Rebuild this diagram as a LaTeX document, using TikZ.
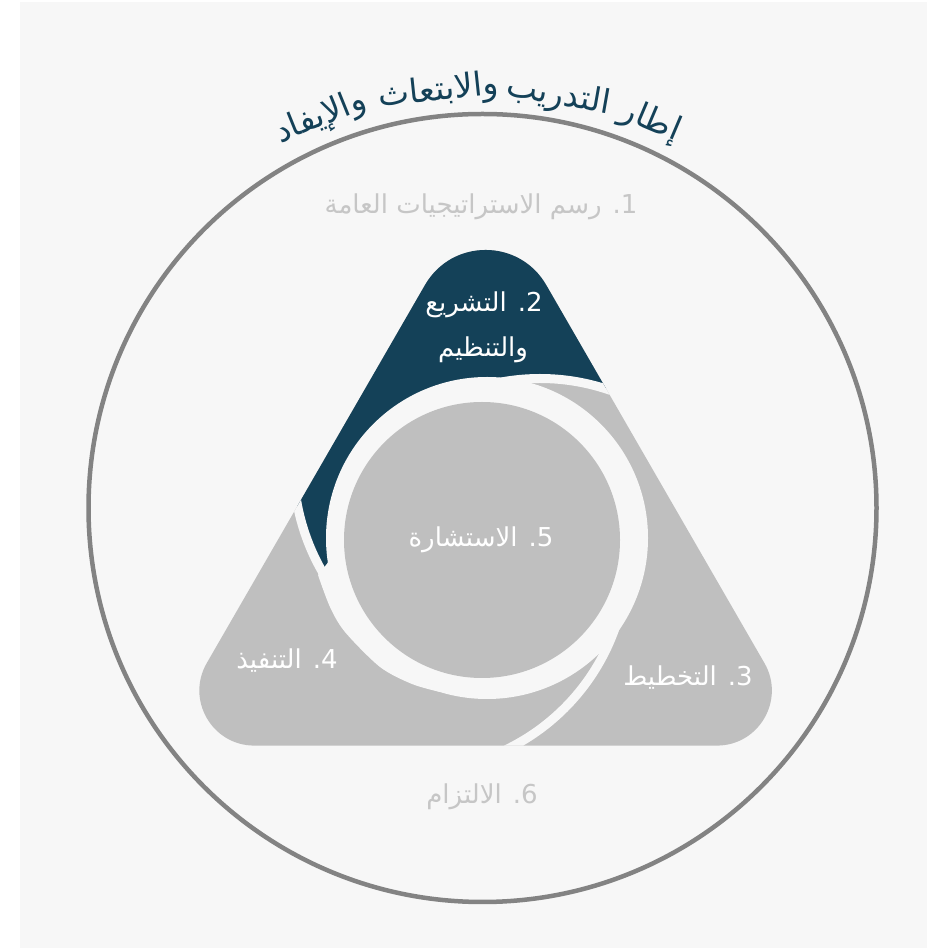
\documentclass[tikz,border=0pt]{standalone}
\usepackage{fontspec}
\newfontfamily\arabicfont[Script=Arabic]{DejaVu Sans}
\TeXXeTstate=1
\definecolor{bgc}{HTML}{F7F7F7}
\definecolor{darkb}{HTML}{144158}
\definecolor{piece}{HTML}{BFBFBF}
\definecolor{ringc}{HTML}{838383}
\definecolor{lighttxt}{HTML}{C6C6C6}
\begin{document}
\begin{tikzpicture}[x=1pt,y=1pt,
  lbl/.style={font=\arabicfont\fontsize{26}{30}\selectfont, inner sep=0pt},
  ttl/.style={font=\arabicfont\fontsize{33}{36}\selectfont, text=darkb, inner sep=0pt, anchor=base},
  gapline/.style={bgc, line width=9}]
\useasboundingbox (0,0) rectangle (927,948);
\fill[white] (0,0) rectangle (927,948);
\fill[bgc] (20,0) rectangle (927,946);
% outer circle
\draw[ringc, line width=4.5] (482.5,440) circle[radius=394];
% title on arc
\begin{scope}[shift={(482.5,440)}]
\node[ttl, rotate=-23] (t1) at (66.5:413) {\beginR إطار\endR};
\node[ttl, rotate=-10] (t2) at (79.5:410) {\beginR التدريب\endR};
\node[ttl, rotate=6] (t3) at (96:410) {\beginR والابتعاث\endR};
\node[ttl, rotate=22] (t4) at (112.5:414) {\beginR والإيفاد\endR};
\end{scope}
% triangle with pieces
\begin{scope}
\clip (425,663) .. controls (452,709.7) and (519.2,709.7) .. (546.2,663)
  -- (764.45,284.9) .. controls (785.6,248.3) and (759.1,202.4) .. (716.8,202.4)
  -- (254.4,202.4) .. controls (212.1,202.4) and (185.6,248.3) .. (206.75,284.9) -- cycle;
\fill[piece] (0,0) rectangle (927,948);
\fill[darkb] ([shift={(540,355)}]63:214.5) arc[start angle=63,end angle=176,radius=214.5]
  arc[start angle=-148.1,end angle=-190,radius=214.5] -- (150,848) -- (820,848) -- cycle;
\draw[gapline] ([shift={(540,355)}]112:214.5) arc[start angle=112,end angle=60,radius=214.5];
\draw[gapline] ([shift={(412.9,391.6)}]-8:214.5) arc[start angle=-8,end angle=-76,radius=214.5];
\draw[gapline] ([shift={(508.1,483.4)}]-128:214.5) arc[start angle=-128,end angle=-192,radius=214.5];
\fill[bgc] plot[smooth] coordinates {(318,373) (330,341) (345,316) (380,281) (412,264) (440,256)}
  -- (430,298) -- (360,358) -- (330,388) -- cycle;
\fill[bgc] (487,410) circle[radius=161];
\end{scope}
\node[circle, fill=piece, minimum size=276, inner sep=0pt] (core) at (482,408) {};
% labels
\node[lbl, text=lighttxt] (l1) at (481,741) {\beginR 1\kern0pt. رسم الاستراتيجيات العامة\endR};
\node[lbl, text=white] (l2a) at (484,643) {\beginR 2\kern0pt. التشريع\endR};
\node[lbl, text=white] (l2b) at (483,598) {\beginR والتنظيم\endR};
\node[lbl, text=white] (l5) at (481,408) {\beginR 5\kern0pt. الاستشارة\endR};
\node[lbl, text=white] (l4) at (287,287) {\beginR 4\kern0pt. التنفيذ\endR};
\node[lbl, text=white] (l3) at (688,270) {\beginR 3\kern0pt. التخطيط\endR};
\node[lbl, text=lighttxt] (l6) at (482,151) {\beginR 6\kern0pt. الالتزام\endR};
\end{tikzpicture}
\end{document}
